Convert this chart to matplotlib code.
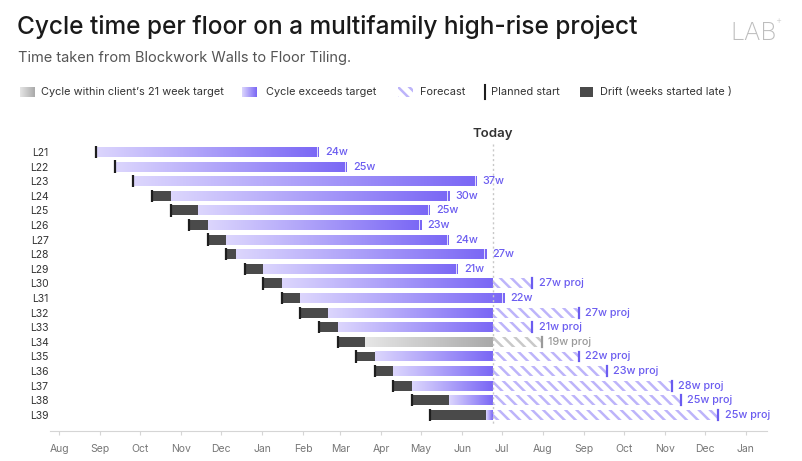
import datetime as dt
import numpy as np
import matplotlib
matplotlib.use("Agg")
import matplotlib.pyplot as plt
import matplotlib.dates as mdates
from matplotlib.colors import LinearSegmentedColormap
from matplotlib.patches import Rectangle

# data
floors = ["L%d" % n for n in range(21, 40)]
first_planned = dt.date(2022, 8, 29)   # planned start of L21, then every 2 weeks
planned_gap_days = 14
drift_weeks = [0, 0, 0, 2, 3, 2, 2, 1, 2, 2, 2, 3, 2, 3, 2, 2, 2, 4, 6]
cycle_weeks = [24, 25, 37, 30, 25, 23, 24, 27, 21, 27, 22, 27, 21, 19, 22, 23, 28, 25, 25]
is_forecast = [False] * 9 + [True, False] + [True] * 8
target_weeks = 21
today = dt.date(2023, 6, 24)

plt.rcParams['font.family'] = ['Inter', 'DejaVu Sans']
plt.rcParams['hatch.linewidth'] = 1.8

W, H = 802, 461
fig = plt.figure(figsize=(W / 100, H / 100), dpi=100)

def fx(x):
    return x / W

def fy(y):
    return 1 - y / H

ax = fig.add_axes([fx(50), fy(431), fx(767) - fx(50), fy(140) - fy(431)])

purple_cm = LinearSegmentedColormap.from_list("p", ["#dcd6fd", "#7a67f5"])
gray_cm = LinearSegmentedColormap.from_list("g", ["#e6e6e6", "#a9a9a9"])
grad = np.linspace(0, 1, 256).reshape(1, -1)

t_num = mdates.date2num(today)
bh = 0.68
for i, fl in enumerate(floors):
    planned = first_planned + dt.timedelta(days=planned_gap_days * i)
    start = planned + dt.timedelta(weeks=drift_weeks[i])
    end = start + dt.timedelta(weeks=cycle_weeks[i])
    p0, s0, e0 = (mdates.date2num(d) for d in (planned, start, end))
    within = cycle_weeks[i] < target_weeks
    cm = gray_cm if within else purple_cm
    txt_col = "#9a9a9a" if within else "#6b5cf0"
    hatch_col = "#c9c9c9" if within else "#bdb4fa"
    proj = is_forecast[i]

    solid_end = t_num if proj else e0
    ax.imshow(grad, cmap=cm, aspect='auto', interpolation='bilinear',
              extent=[s0, solid_end, i + bh / 2, i - bh / 2], zorder=2)
    if proj:
        ax.barh(i, e0 - t_num, left=t_num, height=bh, color='white',
                edgecolor=hatch_col, hatch='\\\\\\', linewidth=0, zorder=2)
        ax.plot([e0, e0], [i - bh / 2, i + bh / 2], color=txt_col, lw=1.6, zorder=4)
        ax.text(e0 + 5, i, "%dw proj" % cycle_weeks[i], color=txt_col,
                fontsize=7.8, va='center', ha='left', fontweight='medium')
    else:
        ax.plot([e0 - 1.6, e0 - 1.6], [i - bh / 2, i + bh / 2], color='white',
                lw=0.7, alpha=0.8, zorder=3)
        ax.text(e0 + 4.5, i, "%dw" % cycle_weeks[i], color=txt_col,
                fontsize=7.8, va='center', ha='left', fontweight='medium')

    if drift_weeks[i] > 0:
        ax.barh(i, s0 - p0, left=p0, height=bh, color='#4a4a4a', zorder=3)
    ax.plot([p0, p0], [i - bh / 2 - 0.08, i + bh / 2 + 0.08], color='#1e1e1e',
            lw=1.6, zorder=4, solid_capstyle='butt')

ax.plot([t_num, t_num], [-0.55, 18.7], color='#c8c8c8', lw=1.0,
        linestyle=(0, (1.5, 2)), zorder=5)
ax.text(t_num, -1.25, "Today", ha='center', va='center', fontsize=9.5,
        fontweight='semibold', color='#333333', clip_on=False)

ax.set_xlim(mdates.date2num(dt.date(2022, 7, 25)), mdates.date2num(dt.date(2024, 1, 17)))
ax.set_ylim(19.1, -0.82)
ax.set_yticks(range(len(floors)))
ax.set_yticklabels(floors)
ax.xaxis.set_major_locator(mdates.MonthLocator())
ax.xaxis.set_major_formatter(mdates.DateFormatter('%b'))
ax.tick_params(axis='y', length=0, pad=1, labelsize=7.5, labelcolor='#333333')
ax.tick_params(axis='x', length=3, color='#d5d5d5', pad=6, labelsize=7.5,
               labelcolor='#777777')
for s in ['top', 'right', 'left']:
    ax.spines[s].set_visible(False)
ax.spines['bottom'].set_color('#d5d5d5')

# header
fig.text(fx(17), fy(27), "Cycle time per floor on a multifamily high-rise project",
         fontsize=17.6, fontweight='medium', color='#1a1a1a', va='center')
fig.text(fx(18), fy(58), "Time taken from Blockwork Walls to Floor Tiling.",
         fontsize=10.5, color='#555555', va='center')
fig.text(fx(730), fy(33), "LAB", fontsize=18, fontweight=200, color='#bdbdbd', va='center')
fig.text(fx(775), fy(21), "+", fontsize=7, fontweight=200, color='#bdbdbd', va='center')

# legend
ly = 92
def grad_square(x, cmap):
    a = fig.add_axes([fx(x), fy(ly + 5), fx(15), fy(0) - fy(10)])
    a.imshow(grad, cmap=cmap, aspect='auto')
    a.axis('off')

grad_square(20, gray_cm)
fig.text(fx(41), fy(ly), "Cycle within client\u2019s 21 week target", fontsize=7.9,
         color='#333333', va='center')
grad_square(242, purple_cm)
fig.text(fx(266), fy(ly), "Cycle exceeds target", fontsize=7.9, color='#333333', va='center')
fig.patches.append(Rectangle((fx(398), fy(ly + 5)), fx(15), fy(0) - fy(10),
                             transform=fig.transFigure, facecolor='white',
                             edgecolor='#bdb4fa', hatch='\\\\\\', linewidth=0))
fig.text(fx(420), fy(ly), "Forecast", fontsize=7.9, color='#333333', va='center')
fig.lines.append(plt.Line2D([fx(485), fx(485)], [fy(ly - 7), fy(ly + 7)],
                            transform=fig.transFigure, color='#1e1e1e', lw=1.5))
fig.text(fx(491), fy(ly), "Planned start", fontsize=7.9, color='#333333', va='center')
fig.patches.append(Rectangle((fx(580), fy(ly + 5)), fx(13), fy(0) - fy(10),
                             transform=fig.transFigure, facecolor='#4a4a4a', linewidth=0))
fig.text(fx(600), fy(ly), "Drift (weeks started late )", fontsize=7.9, color='#333333',
         va='center')

fig.savefig("out.png", dpi=100)
